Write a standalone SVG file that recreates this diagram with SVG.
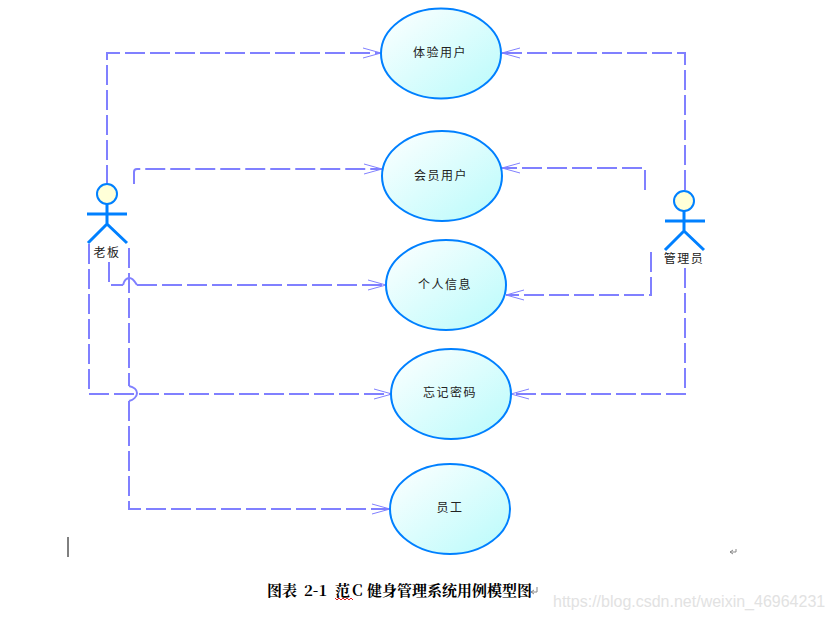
<svg xmlns="http://www.w3.org/2000/svg" width="832" height="621" viewBox="0 0 832 621">
<style>
.c{fill:none;stroke:#8080ff;stroke-width:2;stroke-dasharray:20 5}
.b{fill:none;stroke:#8080ff;stroke-width:2}
.u{fill:url(#g);stroke:#0080ff;stroke-width:2}
.a{fill:none;stroke:#0080ff;stroke-width:3}
.h{fill:#ffffd8;stroke:#0080ff;stroke-width:2}
.t{font-family:"Noto Sans CJK SC",sans-serif;font-size:12px;fill:#222;text-anchor:middle;letter-spacing:1.5px}
.cap{font-family:"Noto Serif CJK SC","Liberation Serif","Noto Sans CJK SC",serif;font-size:15px;font-weight:bold;fill:#000}
</style>
<defs>
<linearGradient id="g" x1="0" y1="0" x2="1" y2="1"><stop offset="0" stop-color="#fff"/><stop offset="1" stop-color="#b8fbfb"/></linearGradient>
<marker id="m" markerUnits="userSpaceOnUse" markerWidth="20" markerHeight="14" refX="18" refY="7" orient="auto"><path d="M0 2L18 7L0 12" fill="none" stroke="#8080ff" stroke-width="1"/></marker>
</defs>
<g id="connectors">
<path class="c" marker-end="url(#m)" d="M107 185V53H381"/>
<path class="c" marker-end="url(#m)" d="M134 184V172Q134 169 137 169H382"/>
<path class="c" d="M109 262V285H123"/>
<path class="b" d="M123 285C124 281 126 278 129.500 278C133 278 135 282 137 285"/>
<path class="c" marker-end="url(#m)" d="M137 285H386"/>
<path class="c" marker-end="url(#m)" d="M89 244V394H392"/>
<path class="c" d="M129 248V386"/>
<path class="b" d="M129 386C134 387 137 390 137 393C137 397 133 400 129 401"/>
<path class="c" marker-end="url(#m)" d="M129 401V509H390"/>
<path class="c" marker-end="url(#m)" d="M685 190V53H502"/>
<path class="c" marker-end="url(#m)" d="M645 190V168H502"/>
<path class="c" marker-end="url(#m)" d="M651 252V295H506"/>
<path class="c" marker-end="url(#m)" d="M685 268V394H511"/>
</g>
<g id="uc1"><ellipse class="u" cx="441" cy="53.500" rx="60" ry="45"/><text class="t" x="440" y="57">体验用户</text></g>
<g id="uc2"><ellipse class="u" cx="442" cy="176" rx="60" ry="45"/><text class="t" x="441" y="180">会员用户</text></g>
<g id="uc3"><ellipse class="u" cx="446" cy="285" rx="60" ry="45"/><text class="t" x="445" y="289">个人信息</text></g>
<g id="uc4"><ellipse class="u" cx="451" cy="394" rx="60" ry="45"/><text class="t" x="450" y="397">忘记密码</text></g>
<g id="uc5"><ellipse class="u" cx="450" cy="509" rx="60" ry="45"/><text class="t" x="450" y="512">员工</text></g>
<g id="actor-boss"><circle class="h" cx="107" cy="194" r="10"/><path class="a" d="M107 204V224M87 214H127M88 243L107 224L127 243"/><text class="t" x="107" y="257">老板</text></g>
<g id="actor-admin"><circle class="h" cx="684" cy="201" r="10"/><path class="a" d="M684 211V231M665 221H705M665 250L684 231L704 250"/><text class="t" x="684" y="263">管理员</text></g>
<path d="M68 537V557" stroke="#000" fill="none"/>
<text x="267" y="596" class="cap">图表</text>
<text x="304" y="596" class="cap">2-1</text>
<text x="335" y="596" class="cap">范</text>
<text x="352" y="596" class="cap">C</text>
<text x="367" y="596" class="cap">健身管理系统用例模型图</text>
<path d="M335 598l2 2l2-2l2 2l2-2l2 2l2-2l2 2l2-2l2 2" fill="none" stroke="#e02020"/>
<path d="M537 587V592H531M531 592L534 590M531 592L534 594" fill="none" stroke="#888"/>
<path d="M736 549V552H730M730 552L733 550M730 552L733 554" fill="none" stroke="#888"/>
<text x="553" y="607" font-family="Liberation Sans,sans-serif" font-size="16" fill="#e2e2e2">https://blog.csdn.net/weixin_46964231</text>
</svg>
